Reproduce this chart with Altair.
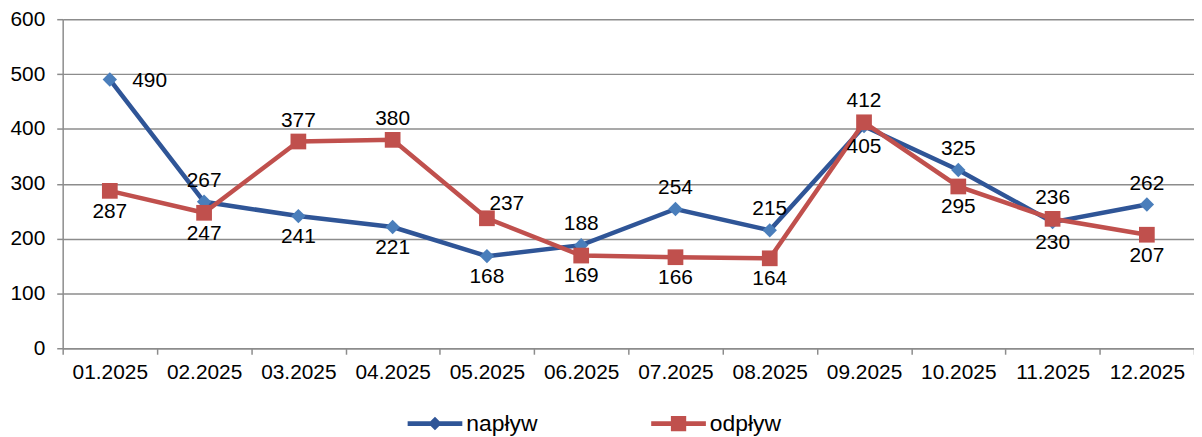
import altair as alt
import pandas as pd

months = ["01.2025", "02.2025", "03.2025", "04.2025", "05.2025", "06.2025",
          "07.2025", "08.2025", "09.2025", "10.2025", "11.2025", "12.2025"]
naplyw = [490, 267, 241, 221, 168, 188, 254, 215, 405, 325, 230, 262]
odplyw = [287, 247, 377, 380, 237, 169, 166, 164, 412, 295, 236, 207]
series_names = ["napływ", "odpływ"]

# label placement (style) per series and point
place_naplyw = ["right", "above", "below", "below", "below", "above",
                "above", "above", "below", "above", "below", "above"]
place_odplyw = ["below", "below", "above", "above", "upright", "below",
                "below", "below", "above", "below", "above", "below"]

rows = []
for m, v, p in zip(months, naplyw, place_naplyw):
    rows.append({"month": m, "value": v, "series": series_names[0], "pos": p})
for m, v, p in zip(months, odplyw, place_odplyw):
    rows.append({"month": m, "value": v, "series": series_names[1], "pos": p})
df = pd.DataFrame(rows)

BLUE_LINE = "#2F5597"
BLUE_MARK = "#4A7EBB"
RED = "#C0504D"
GRID = "#8C8C8C"
FONT = "Liberation Sans"

x_enc = alt.X("month:N", sort=months,
              scale=alt.Scale(type="band", domain=months, paddingInner=0, paddingOuter=0),
              axis=alt.Axis(title=None, tickBand="extent", grid=False, domainColor=GRID,
                            domainWidth=1.5, tickColor=GRID, tickWidth=1.5, tickSize=6,
                            labelFontSize=21, labelColor="black", labelFont=FONT,
                            labelPadding=7, labelAngle=0))
y_enc = alt.Y("value:Q",
              scale=alt.Scale(domain=[0, 600], nice=False),
              axis=alt.Axis(title=None, values=[0, 100, 200, 300, 400, 500, 600],
                            grid=True, gridColor=GRID, gridWidth=1.5,
                            domainColor=GRID, domainWidth=1.5, tickColor=GRID,
                            tickWidth=1.5, tickSize=6, labelFontSize=21,
                            labelColor="black", labelFont=FONT, labelPadding=12))

base = alt.Chart(df).encode(x=x_enc, y=y_enc)

line_n = base.transform_filter(alt.datum.series == series_names[0]).mark_line(
    color=BLUE_LINE, strokeWidth=4.5)
line_o = base.transform_filter(alt.datum.series == series_names[1]).mark_line(
    color=RED, strokeWidth=4.5)
pts_n = base.transform_filter(alt.datum.series == series_names[0]).mark_point(
    shape="diamond", filled=True, color=BLUE_MARK, size=210, opacity=1)
pts_o = base.transform_filter(alt.datum.series == series_names[1]).mark_point(
    shape="square", filled=True, color=RED, size=250, opacity=1)

offsets = {"above": (0, -21), "below": (0, 21), "right": (40, 2), "upright": (20, -14)}
text_layers = []
for pos, (dx, dy) in offsets.items():
    text_layers.append(
        base.transform_filter(alt.datum.pos == pos).mark_text(
            fontSize=21, font=FONT, color="black", dx=dx, dy=dy, baseline="middle"
        ).encode(text="value:Q")
    )

legend_paths = [
    "M-2.5,-0.22H2.5V0.22H-2.5Z M0,-0.62L0.62,0L0,0.62L-0.62,0Z",
    "M-2.5,-0.22H2.5V0.22H-2.5Z M-0.7,-0.7H0.7V0.7H-0.7Z",
]
legend_layer = base.transform_filter("false").mark_point(filled=True, opacity=1).encode(
    color=alt.Color("series:N",
                    scale=alt.Scale(domain=series_names, range=[BLUE_LINE, RED]),
                    legend=alt.Legend(title=None, orient="none", direction="horizontal",
                                      legendX=363, legendY=395, symbolSize=484,
                                      symbolStrokeWidth=0, labelFontSize=23,
                                      labelFont=FONT, labelColor="black",
                                      labelOffset=20, columnPadding=114)),
    shape=alt.Shape("series:N",
                    scale=alt.Scale(domain=series_names, range=legend_paths)),
)

chart = alt.layer(line_n, line_o, pts_n, pts_o, *text_layers, legend_layer).properties(
    width=1138, height=331,
    autosize=alt.AutoSizeParams(type="none"),
    padding={"left": 55, "top": 10, "right": 0, "bottom": 88},
).configure_view(stroke=None)

chart.save("out.html", embed_options={"renderer": "svg", "actions": False})
